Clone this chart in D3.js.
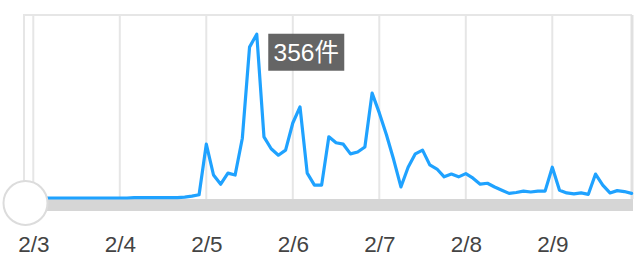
<!DOCTYPE html>
<html>
<head>
<meta charset="utf-8">
<script src="https://cdn.jsdelivr.net/npm/d3@7/dist/d3.min.js"></script>
<style>
html,body{margin:0;padding:0;background:#fff;}
svg{display:block;}
</style>
</head>
<body>
<svg id="chart" width="641" height="268"></svg>
<script>
// ---- data ----
const days = ["2/3","2/4","2/5","2/6","2/7","2/8","2/9"];
const hours = [0,2,4,6,8,10,12,14,16,18,20,22];
const tickLabels = ["2/3","2/4","2/5","2/6","2/7","2/8","2/9"];
const counts = [
  // 2/3
  0,0,0,0,0,0,0,0,0,0,0,0,
  // 2/4
  0,0,1,1,1,1,1,1,1,2,4,7,
  // 2/5
  117,50,30,54,50,130,328,356,133,107,93,104,
  // 2/6
  163,198,54,28,28,133,120,117,96,100,111,228,
  // 2/7
  185,137,83,24,67,96,104,72,63,46,52,46,
  // 2/8
  53,43,30,32,24,17,10,12,15,13,15,15,
  // 2/9
  67,17,11,9,11,8,52,28,11,16,14,10
];
const tooltipUnit = "件";

// ---- build ----
const times = [];
days.forEach((d, di) => hours.forEach(h => {
  times.push(new Date(2020, 1, 3 + di, h));
}));
const data = times.map((t, i) => ({t, v: counts[i]}));

const svg = d3.select("#chart");
const plotL = 24, plotR = 632, plotT = 15, plotB = 199;

const x = d3.scaleTime()
  .domain([new Date(2020,1,3,0), new Date(2020,1,10,0)])
  .range([33.3, 638.8]);
const y = d3.scaleLinear().domain([0, 400]).range([198, 14]);

// borders
const g = svg.append("g");
g.append("line").attr("x1", plotL - 1).attr("x2", plotR).attr("y1", plotT).attr("y2", plotT)
  .attr("stroke", "#e6e6e6").attr("stroke-width", 2);
g.append("line").attr("x1", plotL).attr("x2", plotL).attr("y1", plotT).attr("y2", plotB)
  .attr("stroke", "#e6e6e6").attr("stroke-width", 2);
g.append("line").attr("x1", plotR).attr("x2", plotR).attr("y1", plotT).attr("y2", plotB)
  .attr("stroke", "#e0e0e0").attr("stroke-width", 3);

// gridlines
const tickDates = days.map((d, i) => new Date(2020, 1, 3 + i, 0));
g.selectAll(".grid").data(tickDates).enter().append("line")
  .attr("x1", d => x(d)).attr("x2", d => x(d))
  .attr("y1", plotT).attr("y2", plotB)
  .attr("stroke", "#e6e6e6").attr("stroke-width", 2);

// gray band
g.append("rect").attr("x", plotL).attr("y", plotB).attr("width", plotR - plotL + 1).attr("height", 12)
  .attr("fill", "#d6d6d6");

// line
const line = d3.line().x(d => x(d.t)).y(d => y(d.v));
g.append("path").datum(data).attr("d", line)
  .attr("fill", "none").attr("stroke", "#1fa2ff").attr("stroke-width", 3.2)
  .attr("stroke-linejoin", "round").attr("stroke-linecap", "round");

// slider circle
g.append("circle").attr("cx", 25.5).attr("cy", 203).attr("r", 22)
  .attr("fill", "#fff").attr("stroke", "#dcdcdc").attr("stroke-width", 2);

// x axis labels
const axis = d3.axisBottom(x).tickValues(tickDates).tickFormat((d, i) => tickLabels[i]).tickSize(0);
const ax = svg.append("g").attr("transform", `translate(0,${plotB})`).call(axis);
ax.select(".domain").remove();
ax.selectAll("text")
  .attr("y", 0).attr("dy", "53px")
  .attr("font-family", "'Liberation Sans', Arial, sans-serif")
  .attr("font-size", "22.5px").attr("fill", "#444");

// tooltip at maximum
const maxD = data.reduce((a, b) => b.v > a.v ? b : a);
const tx = x(maxD.t) + 11.5, ty = y(maxD.v) - 0.5;
const tg = svg.append("g").attr("transform", `translate(${tx},${ty})`);
tg.append("rect").attr("width", 76).attr("height", 37).attr("fill", "#5f5f5f").attr("opacity", 0.96);
tg.append("text").attr("x", 38).attr("y", 27.5).attr("text-anchor", "middle")
  .attr("font-family", "'Liberation Sans', Arial, 'Noto Sans CJK JP', sans-serif")
  .attr("font-size", "24.5px").attr("fill", "#fff")
  .text(maxD.v + tooltipUnit);
</script>
</body>
</html>
